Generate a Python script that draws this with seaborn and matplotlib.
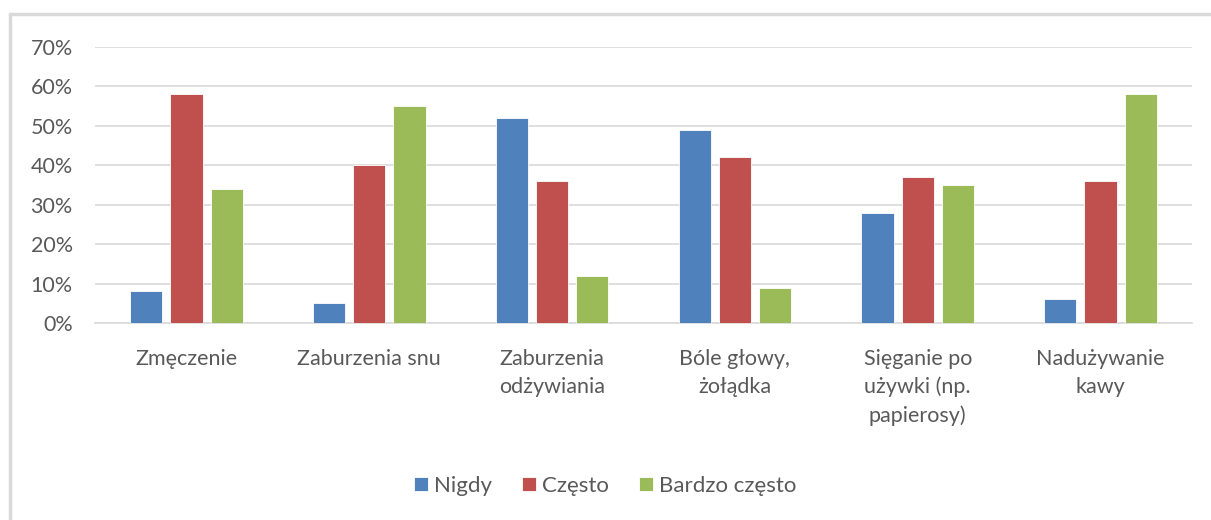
import matplotlib
matplotlib.use("Agg")
import matplotlib.pyplot as plt
from matplotlib.lines import Line2D
from matplotlib.ticker import PercentFormatter, MultipleLocator
import pandas as pd
import seaborn as sns

categories = ["Zmęczenie", "Zaburzenia snu", "Zaburzenia\nodżywiania", "Bóle głowy,\nżołądka",
              "Sięganie po\nużywki (np.\npapierosy)", "Nadużywanie\nkawy"]
series = ["Nigdy", "Często", "Bardzo często"]
nigdy = [0.08, 0.05, 0.52, 0.49, 0.28, 0.06]
czesto = [0.58, 0.40, 0.36, 0.42, 0.37, 0.36]
bardzo_czesto = [0.34, 0.55, 0.12, 0.09, 0.35, 0.58]
colors = ["#4F81BD", "#C0504D", "#9BBB59"]

rows = []
for name, vals in zip(series, [nigdy, czesto, bardzo_czesto]):
    for cat, v in zip(categories, vals):
        rows.append({"Kategoria": cat, "Seria": name, "Wartość": v})
df = pd.DataFrame(rows)

sns.set_style("white")
plt.rcParams['font.family'] = ['Lato', 'DejaVu Sans']
text_color = "#595959"
grid_color = "#D9D9D9"
fs = 15.5

fig = plt.figure(figsize=(12.11, 5.2), dpi=100)
ax = fig.add_axes([95 / 1211, 1 - 323 / 520, 1097 / 1211, 276 / 520])

sns.barplot(data=df, x="Kategoria", y="Wartość", hue="Seria", order=categories, hue_order=series,
            palette=colors, width=0.66, gap=0.2, edgecolor="white", linewidth=0.6,
            saturation=1, ax=ax, legend=True, zorder=3)

ax.set_ylim(0, 0.70)
ax.yaxis.set_major_locator(MultipleLocator(0.10))
ax.yaxis.set_major_formatter(PercentFormatter(1.0, decimals=0))
ax.grid(axis="y", color=grid_color, linewidth=1.2, zorder=0)
ax.set_axisbelow(True)
for s in ["top", "right", "left"]:
    ax.spines[s].set_visible(False)
ax.spines["bottom"].set_color(grid_color)
ax.spines["bottom"].set_linewidth(1.2)
ax.tick_params(axis="both", length=0, labelsize=fs, colors=text_color)
ax.tick_params(axis="x", pad=19)
ax.tick_params(axis="y", pad=16)
ax.set_xlabel("")
ax.set_ylabel("")
for lbl in ax.get_xticklabels():
    lbl.set_linespacing(1.45)

handles, labels = ax.get_legend_handles_labels()
ax.get_legend().remove()
fig.legend(handles, labels, loc="center", bbox_to_anchor=(0.5, 1 - 486 / 520), ncol=3,
           frameon=False, fontsize=16, handlelength=0.6, handleheight=0.6,
           columnspacing=1.35, handletextpad=0.3, labelcolor=text_color)

# chart area frame
fig.add_artist(Line2D([10 / 1211, 1.0], [1 - 14 / 520] * 2, color="#D9D9D9", linewidth=2.5))
fig.add_artist(Line2D([10 / 1211] * 2, [0, 1 - 14 / 520], color="#D9D9D9", linewidth=2.5))

fig.savefig("out.png", dpi=100, facecolor="white")
